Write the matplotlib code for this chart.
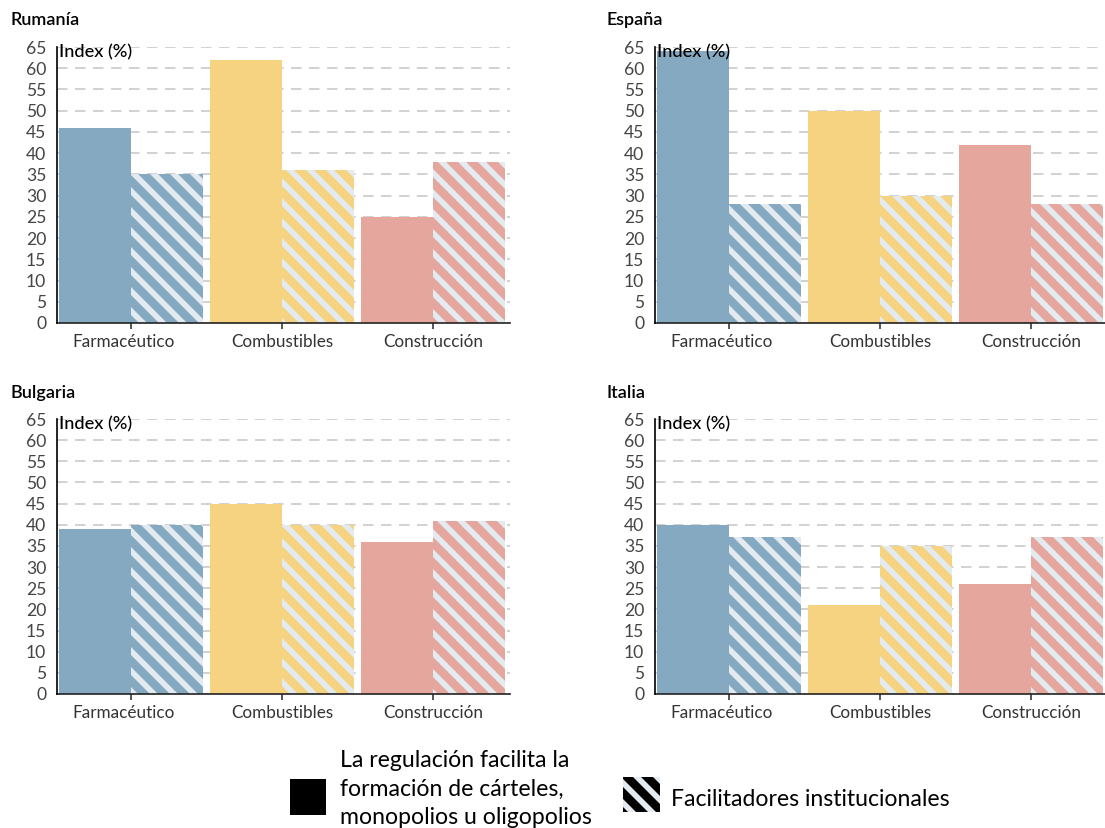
import matplotlib
matplotlib.use("Agg")
import matplotlib.pyplot as plt
from matplotlib.patches import Rectangle
from matplotlib.transforms import ScaledTranslation
import numpy as np

plt.rcParams['font.family'] = ['Lato', 'DejaVu Sans']
plt.rcParams['hatch.linewidth'] = 3.4

categories = ["Farmacéutico", "Combustibles", "Construcción"]
countries = ["Rumanía", "España", "Bulgaria", "Italia"]
regulacion = {
    "Rumanía": [46, 62, 25],
    "España": [64, 50, 42],
    "Bulgaria": [39, 45, 36],
    "Italia": [40, 21, 26],
}
facilitadores = {
    "Rumanía": [35, 36, 38],
    "España": [28, 30, 28],
    "Bulgaria": [40, 40, 41],
    "Italia": [37, 35, 37],
}
yticks = list(range(0, 66, 5))
legend_labels = ["La regulación facilita la\nformación de cárteles,\nmonopolios u oligopolios",
                 "Facilitadores institucionales"]
ylabel = "Index (%)"

colors = ["#84a9c0", "#f5d380", "#e5a69e"]
hatch_color = "#e3ebf1"

W, H = 1105, 828
fig = plt.figure(figsize=(W / 120, H / 120), dpi=120)

# axes rectangles in pixels: (left, top, width, height)
rects = {
    "Rumanía": (57, 47, 453, 276),
    "España": (655, 47, 453, 276),
    "Bulgaria": (57, 419, 453, 275),
    "Italia": (655, 419, 453, 275),
}
title_pos = {
    "Rumanía": (10, 20),
    "España": (607, 20),
    "Bulgaria": (10, 393),
    "Italia": (607, 393),
}

x = np.arange(len(categories))
bw = 0.48
for c in countries:
    l, t, w, h = rects[c]
    ax = fig.add_axes([l / W, 1 - (t + h) / H, w / W, h / H])
    ax.set_axisbelow(True)
    ax.bar(x - bw / 2, regulacion[c], width=bw, color=colors, linewidth=0, zorder=2)
    ax.bar(x + bw / 2, facilitadores[c], width=bw, color=colors, edgecolor=hatch_color,
           hatch='\\\\', linewidth=0, zorder=2)
    ax.set_xlim(-0.49, 2.51)
    ax.set_ylim(0, 65)
    ax.set_yticks(yticks)
    ax.set_xticks(x)
    ax.set_xticklabels(categories)
    ax.grid(axis='y', color='#c4c4c4', linestyle=(0, (7, 5)), linewidth=0.9, zorder=0)
    for s in ['top', 'right']:
        ax.spines[s].set_visible(False)
    ax.spines['left'].set_color('black')
    ax.spines['bottom'].set_color('#222222')
    ax.spines['left'].set_linewidth(1.0)
    ax.spines['bottom'].set_linewidth(1.0)
    ax.spines['left'].set_zorder(5)
    ax.tick_params(axis='y', length=0, pad=6.5, labelsize=10.5, labelcolor='#444444')
    ax.tick_params(axis='x', length=3.5, width=0.9, pad=3.2, labelsize=10.3, labelcolor='#333333',
                   color='#222222')
    first = ax.get_xticklabels()[0]
    first.set_transform(first.get_transform() + ScaledTranslation(-7 / 120, 0, fig.dpi_scale_trans))
    ax.text(0.005, 1.01, ylabel, transform=ax.transAxes, ha='left', va='top',
            fontsize=10.9, color='black', fontweight='medium', zorder=6)
    tx, ty = title_pos[c]
    fig.text(tx / W, 1 - ty / H, c, ha='left', va='center', fontsize=10.8,
             fontweight='semibold', color='black')

# Legend
fig.patches.append(Rectangle((290 / W, 1 - 815 / H), 36 / W, 36 / H, transform=fig.transFigure,
                             facecolor='black', edgecolor='none', figure=fig))
fig.text(340 / W, 1 - 789 / H, legend_labels[0], ha='left', va='center', fontsize=13.8,
         color='black', linespacing=1.42)
fig.patches.append(Rectangle((623 / W, 1 - 812 / H), 37 / W, 35 / H, transform=fig.transFigure,
                             facecolor='black', edgecolor=hatch_color, hatch='\\\\', linewidth=0,
                             figure=fig))
fig.text(671 / W, 1 - 799 / H, legend_labels[1], ha='left', va='center', fontsize=13.8,
         color='black')

fig.savefig("out.png", dpi=120)
